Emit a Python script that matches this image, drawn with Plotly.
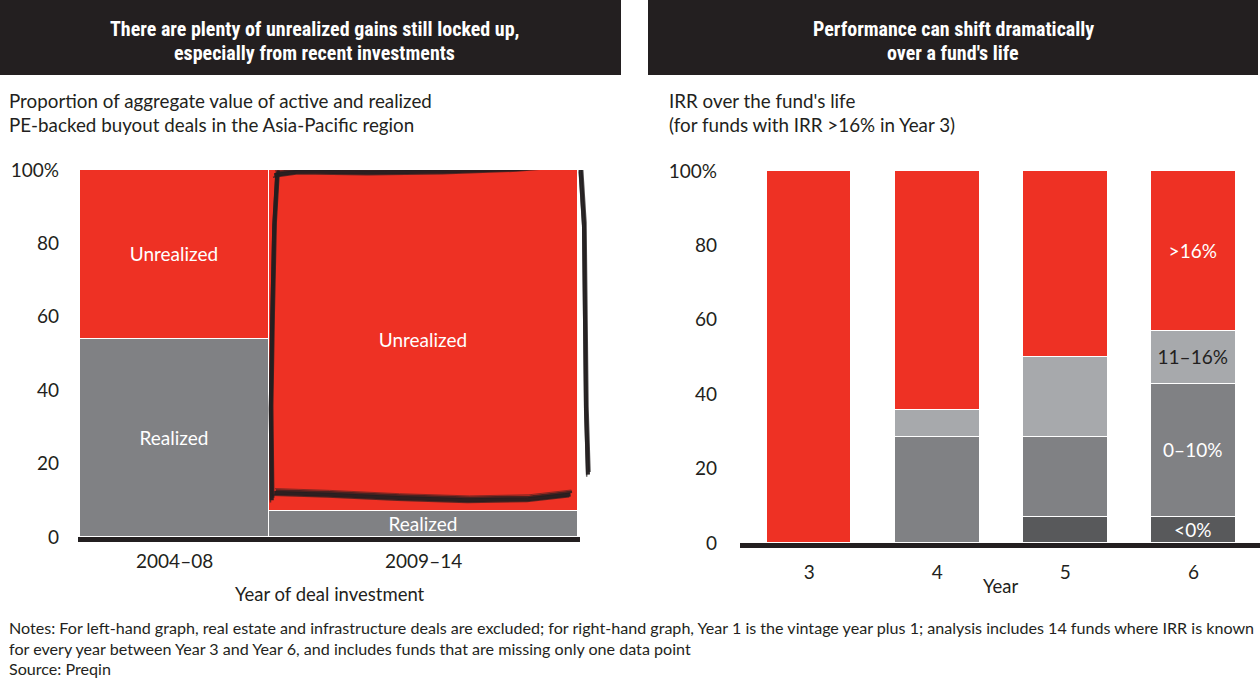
import plotly.graph_objects as go

# ---------------- data ----------------
periods = ["2004–08", "2009–14"]
period_share = [38, 62]          # width of each column (share of aggregate value)
realized = [54, 7]
unrealized = [46, 93]

years = ["3", "4", "5", "6"]
irr_lt0 = [0, 0, 7.1, 7.1]
irr_0_10 = [0, 28.6, 21.4, 35.7]
irr_11_16 = [0, 7.1, 21.4, 14.3]
irr_gt16 = [100, 64.3, 50.0, 42.9]

y_ticks = [0, 20, 40, 60, 80, 100]
y_ticklabels = ["0", "20", "40", "60", "80", "100%"]

RED = "#EE3124"
GRAY = "#808184"
LGRAY = "#A7A9AC"
DGRAY = "#58595B"
INK = "#231F20"
FONT = "Lato, 'Noto Sans', sans-serif"
HFONT = "'Liberation Sans Narrow', 'Roboto Condensed', 'Noto Sans', sans-serif"

W, H = 1260, 680
def px(x): return x / W
def py(y): return 1 - y / H

fig = go.Figure()

# ---------------- left: marimekko ----------------
lefts = [sum(period_share[:i]) for i in range(len(period_share))]
centers = [l + w / 2 for l, w in zip(lefts, period_share)]
total = sum(period_share)
fig.add_trace(go.Bar(
    x=centers, y=realized, width=period_share, xaxis="x", yaxis="y",
    marker=dict(color=GRAY, line=dict(color="white", width=1.2)),
    text=["Realized"] * 2, textposition="inside", insidetextanchor="middle",
    textfont=dict(color="white", size=19, family=FONT), constraintext="none",
    showlegend=False, hoverinfo="skip"))
fig.add_trace(go.Bar(
    x=centers, y=unrealized, width=period_share, xaxis="x", yaxis="y",
    marker=dict(color=RED, line=dict(color="white", width=1.2)),
    text=["Unrealized"] * 2, textposition="inside", insidetextanchor="middle",
    textfont=dict(color="white", size=19, family=FONT), constraintext="none",
    showlegend=False, hoverinfo="skip"))

# ---------------- right: stacked bars ----------------
series = [
    (irr_lt0, DGRAY, ["", "", "", "<0%"], "white"),
    (irr_0_10, GRAY, ["", "", "", "0–10%"], "white"),
    (irr_11_16, LGRAY, ["", "", "", "11–16%"], INK),
    (irr_gt16, RED, ["", "", "", ">16%"], "white"),
]
for vals, col, txt_, tcol in series:
    fig.add_trace(go.Bar(
        x=years, y=vals, xaxis="x2", yaxis="y2", width=0.66,
        marker=dict(color=col, line=dict(color="white", width=1.5)),
        text=txt_, textposition="inside", insidetextanchor="middle",
        textfont=dict(color=tcol, size=19, family=FONT),
        constraintext="none", showlegend=False, hoverinfo="skip"))

# left x-axis geometry (pixels) : columns span 80..578
LX0, LX1 = 78, 594
L_UNIT = 4.98                      # pixels per share unit
left_range = [-(80 - LX0) / L_UNIT, (LX1 - 80) / L_UNIT]
LY0, LY1 = 537, 170

axis_common = dict(showgrid=False, zeroline=False, fixedrange=True)
fig.update_layout(
    width=W, height=H, margin=dict(l=0, r=0, t=0, b=0, autoexpand=False),
    autosize=False,
    paper_bgcolor="white", plot_bgcolor="rgba(0,0,0,0)", barmode="stack",
    bargap=0, font=dict(family=FONT, color=INK, size=19),
    xaxis=dict(domain=[px(LX0), px(LX1)], range=left_range,
               tickvals=centers, ticktext=periods, showline=False,
               ticks="", anchor="y",
               tickfont=dict(size=19, color=INK), ticklabelstandoff=11,
               **axis_common),
    yaxis=dict(domain=[py(LY0), py(LY1)], range=[0, 100], anchor="free",
               position=px(59), tickvals=y_ticks, ticktext=y_ticklabels,
               showline=False, ticks="", tickfont=dict(size=19, color=INK),
               **axis_common),
    xaxis2=dict(domain=[px(740), px(1260)], range=[-0.54, 3.52],
                showline=True, linecolor=INK, linewidth=5, ticks="",
                anchor="y2", tickfont=dict(size=19, color=INK),
                type="category", ticklabelstandoff=8, **axis_common),
    yaxis2=dict(domain=[py(543), py(171)], range=[0, 100], anchor="free",
                position=px(717), tickvals=y_ticks, ticktext=y_ticklabels,
                showline=False, ticks="", tickfont=dict(size=19, color=INK),
                **axis_common),
)

# ---------------- header boxes + left baseline ----------------
base_x1 = 80 + (total + 0.4) * L_UNIT
shapes = [
    dict(type="rect", xref="paper", yref="paper", x0=px(0), x1=px(621),
         y0=py(75), y1=py(0), fillcolor=INK, line=dict(width=0), layer="below"),
    dict(type="rect", xref="paper", yref="paper", x0=px(648), x1=px(1258),
         y0=py(75), y1=py(0), fillcolor=INK, line=dict(width=0), layer="below"),
    dict(type="rect", xref="paper", yref="paper", x0=px(LX0), x1=px(base_x1),
         y0=py(LY0 + 5), y1=py(LY0), fillcolor=INK, line=dict(width=0),
         layer="above"),
]

# ---------------- scribble highlight around 2009–14 column ----------------
x0b = lefts[1]
x1b = lefts[1] + period_share[1]
strokes = [
    # top
    [(x0b + 1.0, 98.6), (x0b + 6, 99.6), (x0b + 20, 99.3), (x0b + 35, 99.6),
     (x0b + 50, 100.3), (x1b - 0.5, 101.6)],
    # left
    [(x0b + 1.6, 99.2), (x0b + 1.0, 85), (x0b + 0.6, 60), (x0b + 0.3, 35),
     (x0b + 0.5, 10)],
    # bottom
    [(x0b + 1.0, 12.0), (x0b + 12, 11.5), (x0b + 26, 10.6), (x0b + 40, 10.0),
     (x0b + 52, 10.3), (x1b - 1.5, 11.6)],
    # right
    [(x1b + 0.5, 100.2), (x1b + 1.2, 85), (x1b + 1.4, 60), (x1b + 1.6, 35),
     (x1b + 2.0, 17)],
]
for pts in strokes:
    for dx, dy, w, op in [(0, 0, 4, 0.95), (0.3, 0.7, 2.5, 0.8),
                          (-0.25, -0.6, 1.5, 0.7), (0.15, 1.2, 1, 0.5)]:
        path = "M " + " L ".join(f"{x + dx},{y + dy}" for x, y in pts)
        shapes.append(dict(type="path", xref="x", yref="y", path=path,
                           line=dict(color=INK, width=w), opacity=op,
                           layer="above"))
fig.update_layout(shapes=shapes)

# ---------------- text ----------------
ann = []
def txt(x, y, s, size=18, color=INK, xanchor="left", family=FONT, bold=False):
    ann.append(dict(x=px(x), y=py(y), xref="paper", yref="paper",
                    text=(f"<b>{s}</b>" if bold else s),
                    showarrow=False, xanchor=xanchor, yanchor="middle",
                    font=dict(size=size, color=color, family=family)))

txt(314, 29, "There are plenty of unrealized gains still locked up,", 20, "white", "center", HFONT, True)
txt(314, 53, "especially from recent investments", 20, "white", "center", HFONT, True)
txt(953, 29, "Performance can shift dramatically", 20, "white", "center", HFONT, True)
txt(953, 53, "over a fund's life", 20, "white", "center", HFONT, True)

txt(7, 100, "Proportion of aggregate value of active and realized", 18.8)
txt(7, 124, "PE-backed buyout deals in the Asia-Pacific region", 18.8)
txt(667, 100, "IRR over the fund's life", 18.8)
txt(667, 124, "(for funds with IRR >16% in Year 3)", 18.8)

txt(330, 594, "Year of deal investment", 18.5, INK, "center")
txt(1000, 586, "Year", 18.5, INK, "center")

txt(7, 627, "Notes: For left-hand graph, real estate and infrastructure deals are excluded; for right-hand graph, Year 1 is the vintage year plus 1; analysis includes 14 funds where IRR is known", 16.1)
txt(7, 648, "for every year between Year 3 and Year 6, and includes funds that are missing only one data point", 16.1)
txt(7, 668, "Source: Preqin", 16.1)

fig.update_layout(annotations=ann)

post = ("document.documentElement.style.margin='0';"
        "document.body.style.margin='0';document.body.style.padding='0';"
        "document.body.style.overflow='hidden';"
        "var gd=document.getElementById('{plot_id}');"
        "if(gd.parentElement){gd.parentElement.style.margin='0';}"
        "Plotly.relayout(gd,{width:1260,height:680});")
fig.write_html("out.html", post_script=post,
               config={"responsive": False, "displayModeBar": False})
